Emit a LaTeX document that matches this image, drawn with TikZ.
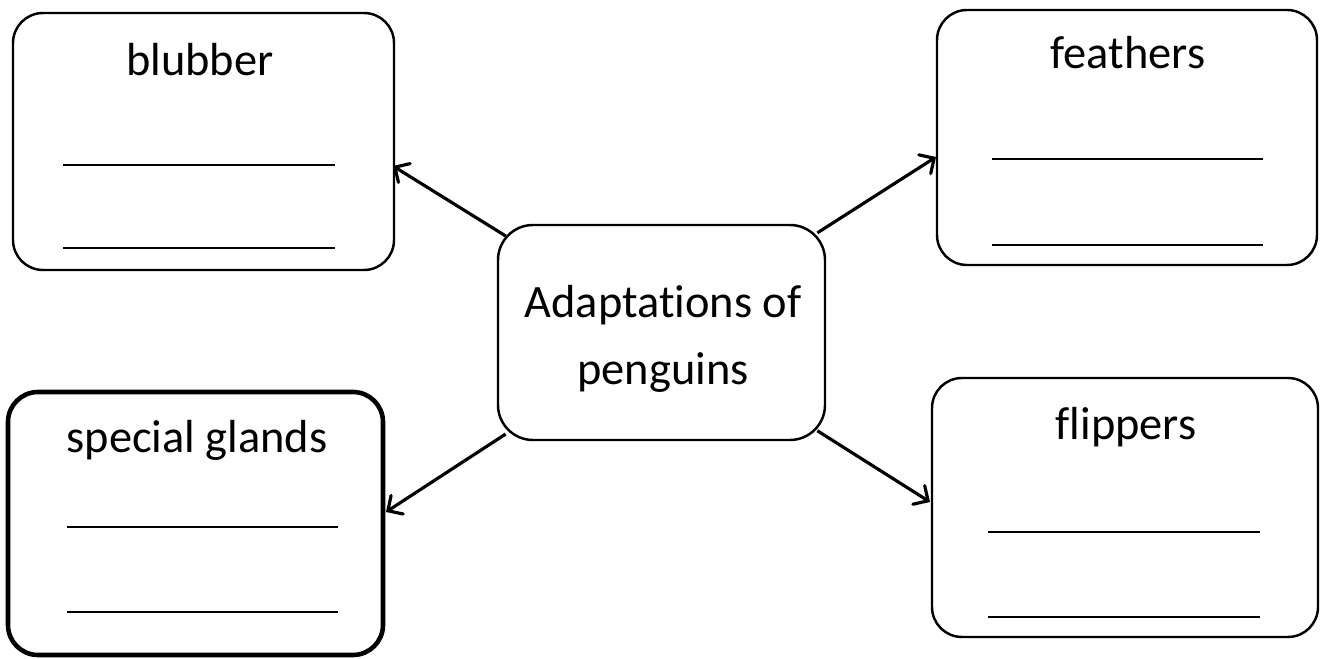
\documentclass[tikz,border=0pt]{standalone}
\usepackage{fontspec}
\setmainfont{Carlito}[Ligatures=NoCommon]
\usepackage{tikz}
\usetikzlibrary{arrows}

\begin{document}
\begin{tikzpicture}[
	box/.style={draw,line width=0.7pt,rounded corners=0.3cm,inner sep=0pt},
	title/.style={anchor=base,inner sep=0pt,font=\fontsize{13.2}{19}\selectfont},
	blank/.style={line width=0.7pt}]
		\useasboundingbox (0,0) rectangle (13.22,6.58);
		%
		\node[box,minimum width=3.81cm,minimum height=2.57cm] (blubber) at (2.035,5.165) {};
		\node[box,minimum width=3.80cm,minimum height=2.55cm] (feathers) at (11.27,5.205) {};
		\node[box,line width=1.3pt,minimum width=3.75cm,minimum height=2.63cm] (glands) at (1.955,1.345) {};
		\node[box,minimum width=3.86cm,minimum height=2.59cm] (flippers) at (11.25,1.505) {};
		\node[box,rounded corners=0.35cm,minimum width=3.27cm,minimum height=2.15cm] (adapt) at (6.615,3.255) {};
		%
		\node[title] (blubberT) at (2.00,5.82) {blubber};
		\node[title] (feathersT) at (11.28,5.89) {feathers};
		\node[title] (glandsT) at (1.97,2.06) {special glands};
		\node[title] (flippersT) at (11.26,2.18) {flippers};
		\node[title] (adaptT) at (6.63,3.40) {Adaptations of};
		\node[title] (adaptT2) at (6.63,2.73) {penguins};
		%
		\coordinate (blubberA) at (3.93,4.92);
		\coordinate (feathersA) at (9.36,5.01);
		\coordinate (glandsA) at (3.86,1.46);
		\coordinate (flippersA) at (9.30,1.56);
		%
		\path[->,>=angle 90,line width=0.9pt,shorten <=-3pt]
		(adapt) edge (blubberA)
		(adapt) edge (feathersA)
		(adapt) edge (glandsA)
		(adapt) edge (flippersA);
		%
		\draw[blank] (0.63,4.93) -- (3.35,4.93);
		\draw[blank] (0.63,4.10) -- (3.35,4.10);
		\draw[blank] (9.92,4.99) -- (12.63,4.99);
		\draw[blank] (9.92,4.13) -- (12.63,4.13);
		\draw[blank] (0.67,1.31) -- (3.38,1.31);
		\draw[blank] (0.67,0.46) -- (3.38,0.46);
		\draw[blank] (9.88,1.26) -- (12.60,1.26);
		\draw[blank] (9.88,0.41) -- (12.60,0.41);
\end{tikzpicture}
\end{document}
